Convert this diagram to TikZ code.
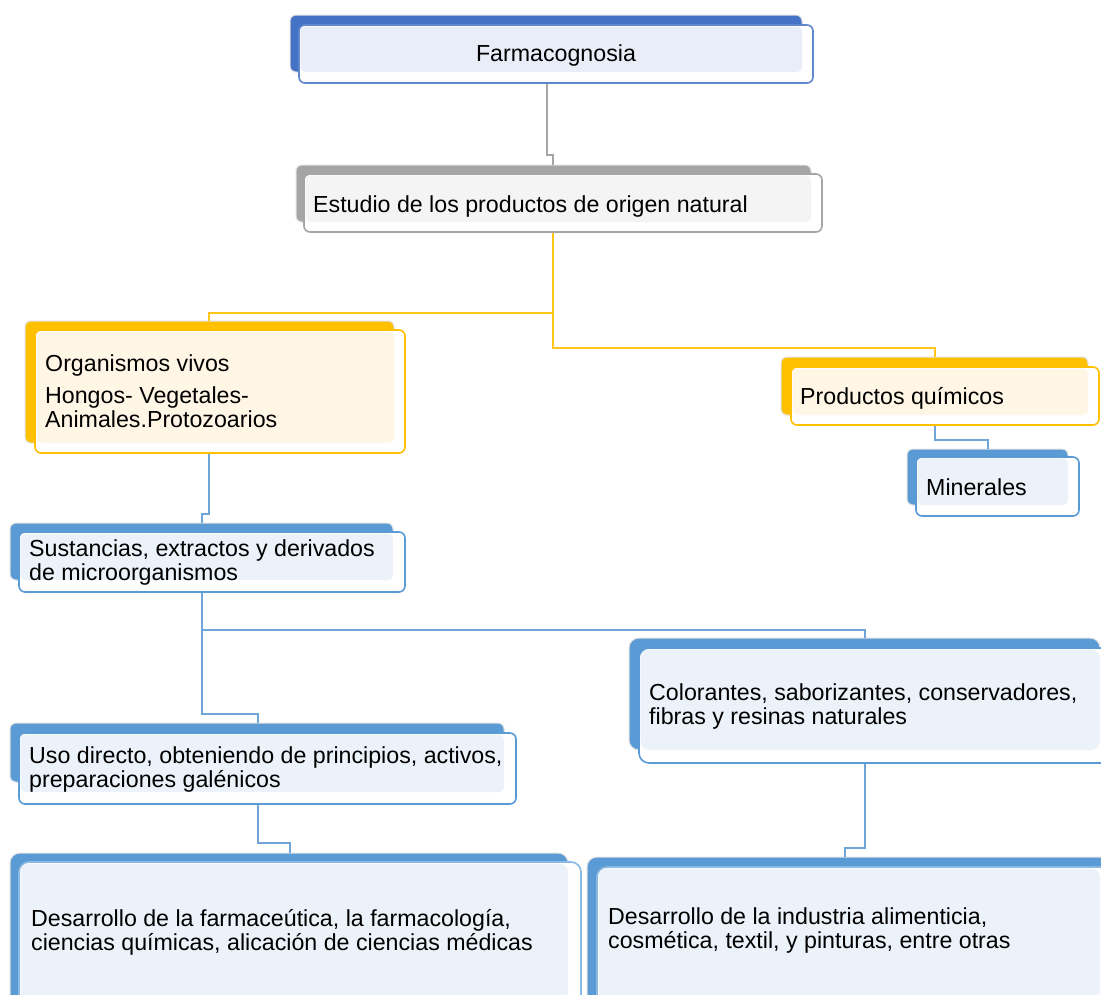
\documentclass[tikz,border=0pt]{standalone}
\usepackage{fontspec}
\setmainfont{Liberation Sans}
\definecolor{bDark}{HTML}{4472C4}
\definecolor{bDarkL}{HTML}{E9EDF7}
\definecolor{gr}{HTML}{A5A5A5}
\definecolor{grL}{HTML}{F4F4F4}
\definecolor{ye}{HTML}{FFC000}
\definecolor{yeL}{HTML}{FFF6E6}
\definecolor{bl}{HTML}{5B9BD5}
\definecolor{blL}{HTML}{EBF2FA}
\definecolor{cbl}{HTML}{6FA5D8}
\begin{document}
\begin{tikzpicture}[x=1pt,y=-1pt,
  backb/.style={rectangle, rounded corners=6pt, draw=black!12, line width=1pt, anchor=north west, inner sep=0pt, outer sep=0pt},
  frontb/.style={rectangle, rounded corners=6pt, fill=white, line width=1.6pt, anchor=north west, inner sep=0pt, outer sep=0pt},
  txt/.style={anchor=base west, inner sep=0pt, align=left, font=\fontsize{23.2}{23.5}\selectfont},
  conn/.style={line width=1.8pt},
  cg/.style={conn, draw=gr},
  cy/.style={conn, draw=ye!90!white},
  cb/.style={conn, draw=cbl}]
\useasboundingbox (0,0) rectangle (1101,994);
\clip (0,0) rectangle (1101,994);
\fill[white] (0,0) rectangle (1101,994);

% ---- back boxes (named for connector ends)
\node[backb, fill=bDark, minimum width=512pt, minimum height=57pt] (farmB) at (290,15) {};
\node[backb, fill=gr, minimum width=515pt, minimum height=57pt] (estB) at (296,165) {};
\node[backb, fill=ye, minimum width=369pt, minimum height=122pt] (orgB) at (25,321) {};
\node[backb, fill=ye, minimum width=307pt, minimum height=58pt] (prodB) at (781,357) {};
\node[backb, fill=bl, minimum width=161pt, minimum height=56pt] (minB) at (907,449) {};
\node[backb, fill=bl, minimum width=383pt, minimum height=57pt] (susB) at (10,523) {};
\node[backb, fill=bl, minimum width=471pt, minimum height=112pt, rounded corners=10pt] (colB) at (629,638) {};
\node[backb, fill=bl, minimum width=494pt, minimum height=59pt] (usoB) at (10,723) {};
\node[backb, fill=bl, minimum width=558pt, minimum height=160pt, rounded corners=10pt] (dfB) at (10,853) {};
\node[backb, fill=bl, minimum width=530pt, minimum height=160pt, rounded corners=10pt] (diB) at (587,857) {};

% ---- connectors
\draw[cg] (547,83) -- (547,155) -- (553,155) -- (553,0 |- estB.north);
\draw[cy] (553,232) -- (553,313) -- (209,313) -- (209,0 |- orgB.north);
\draw[cy] (553,313) -- (553,348) -- (935,348) -- (935,0 |- prodB.north);
\draw[cb] (935,425) -- (935,440) -- (988,440) -- (988,0 |- minB.north);
\draw[cb] (209,453) -- (209,514) -- (202,514) -- (202,0 |- susB.north);
\draw[cb] (202,592) -- (202,714) -- (258,714) -- (258,0 |- usoB.north);
\draw[cb] (202,630) -- (865,630) -- (865,0 |- colB.north);
\draw[cb] (258,804) -- (258,843) -- (290,843) -- (290,0 |- dfB.north);
\draw[cb] (865,763) -- (865,848) -- (845,848) -- (845,0 |- diB.north);

% ---- front boxes
\node[frontb, draw=bDark!85!white, minimum width=514pt, minimum height=58pt] (farm) at (299,25) {};
\fill[bDarkL, rounded corners=5pt] (300.5,26.5) rectangle (802,72);
\node[frontb, draw=gr, minimum width=518pt, minimum height=58pt] (est) at (304,174) {};
\fill[grL, rounded corners=5pt] (305.5,175.5) rectangle (811,222);
\node[frontb, draw=ye, minimum width=370pt, minimum height=123pt] (org) at (35,330) {};
\fill[yeL, rounded corners=5pt] (36.5,331.5) rectangle (394,443);
\node[frontb, draw=ye, minimum width=308pt, minimum height=58pt] (prod) at (791,367) {};
\fill[yeL, rounded corners=5pt] (792.5,368.5) rectangle (1088,415);
\node[frontb, draw=bl, minimum width=163pt, minimum height=59pt] (min) at (916,457) {};
\fill[blL, rounded corners=5pt] (917.5,458.5) rectangle (1068,505);
\node[frontb, draw=bl, minimum width=386pt, minimum height=60pt] (sus) at (19,532) {};
\fill[blL, rounded corners=5pt] (20.5,533.5) rectangle (393,580);
\node[frontb, draw=bl, minimum width=480pt, minimum height=115pt, rounded corners=10pt] (col) at (639,648) {};
\fill[blL, rounded corners=9pt] (640.5,649.5) rectangle (1100,750);
\node[frontb, draw=bl, minimum width=497pt, minimum height=71pt] (uso) at (19,733) {};
\fill[blL, rounded corners=5pt] (20.5,734.5) rectangle (504,792);
\node[frontb, draw=bl!70!white, minimum width=562pt, minimum height=160pt, rounded corners=10pt] (df) at (19,862) {};
\fill[blL, rounded corners=9pt] (20.5,863.5) rectangle (568,1000);
\node[frontb, draw=bl!70!white, minimum width=530pt, minimum height=160pt, rounded corners=10pt] (di) at (597,867) {};
\fill[blL, rounded corners=9pt] (598.5,868.5) rectangle (1100,1000);

% ---- texts (anchor: baseline of the last line)
\node[txt, anchor=base] (farmT) at (556,61) {Farmacognosia};
\node[txt] (estT) at (313,212) {Estudio de los productos de origen natural};
\node[txt] (orgT) at (45,371) {Organismos vivos};
\node[txt] (orgT2) at (45,427) {Hongos- Vegetales-\\Animales.Protozoarios};
\node[txt] (prodT) at (800,404) {Productos químicos};
\node[txt] (minT) at (926,495) {Minerales};
\node[txt] (susT) at (29,580) {Sustancias, extractos y derivados\\de microorganismos};
\node[txt] (colT) at (649,724) {Colorantes, saborizantes, conservadores,\\fibras y resinas naturales};
\node[txt] (usoT) at (29,787) {Uso directo, obteniendo de principios, activos,\\preparaciones galénicos};
\node[txt] (dfT) at (31,950) {Desarrollo de la farmaceútica, la farmacología,\\ciencias químicas, alicación de ciencias médicas};
\node[txt] (diT) at (608,948) {Desarrollo de la industria alimenticia,\\cosmética, textil, y pinturas, entre otras};
\end{tikzpicture}
\end{document}
